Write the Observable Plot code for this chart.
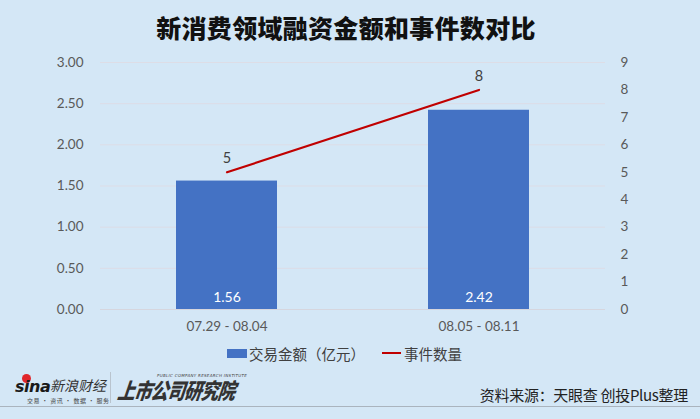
<!DOCTYPE html>
<html>
<head>
<meta charset="utf-8">
<script src="https://cdn.jsdelivr.net/npm/d3@7"></script>
<script src="https://cdn.jsdelivr.net/npm/@observablehq/plot@0.6"></script>
<style>
  html, body { margin: 0; padding: 0; }
  #page { position: relative; width: 700px; height: 419px; background: #d4e7f6; overflow: hidden; font-family: "Noto Sans CJK SC", "Lato", sans-serif; }
  #title { position: absolute; left: 0; top: 9px; width: 692px; text-align: center; font-size: 25px; font-weight: 900; color: #111; line-height: 36px; letter-spacing: 0.3px; }
  #chart { position: absolute; left: 0; top: 52px; }
  #legend { position: absolute; left: 227px; top: 342px; height: 22px; font-size: 14.5px; color: #404040; display: flex; align-items: center; white-space: nowrap; }
  .sw-bar { display: inline-block; width: 20px; height: 9px; background: #4472c4; margin-right: 2px; }
  .sw-line { display: inline-block; width: 19px; height: 2px; background: #c00000; margin-left: 17px; margin-right: 3px; }
  #source { position: absolute; right: 12px; top: 384px; font-size: 15px; color: #222; line-height: 22px; letter-spacing: -0.3px; }
  #sep { position: absolute; left: 0; top: 405.5px; width: 700px; height: 1.5px; background: #aab4be; }
  #vsep { position: absolute; left: 110px; top: 372px; width: 1px; height: 31px; background: #b9c4ce; }
  #sina { position: absolute; left: 15px; top: 377px; font-family: "DejaVu Sans", sans-serif; font-weight: bold; font-style: italic; font-size: 16px; color: #1a1a1a; letter-spacing: -0.5px; }
  #sinaeye { position: absolute; left: 22px; top: 374px; width: 9px; height: 9px; border-radius: 50%; background: #e0262b; }
  #xinlang { position: absolute; left: 50px; top: 375px; font-size: 14px; font-style: italic; color: #333; }
  #sinasub { position: absolute; left: 27px; top: 396px; font-size: 6px; color: #444; letter-spacing: 0.5px; }
  #ssgs { position: absolute; left: 118px; top: 377px; font-size: 17.5px; font-weight: 900; font-style: italic; color: #333; transform: skewX(-8deg) scaleY(1.25); transform-origin: left center; letter-spacing: -0.8px; }
  #pcri { position: absolute; left: 157px; top: 373px; font-size: 4px; color: #444; font-family: "DejaVu Sans", sans-serif; font-style: italic; letter-spacing: 0.3px; }
</style>
</head>
<body>
<div id="page">
  <div id="title">新消费领域融资金额和事件数对比</div>
  <div id="chart"></div>
  <div id="legend"><span class="sw-bar"></span><span>交易金额（亿元）</span><span class="sw-line"></span><span>事件数量</span></div>
  <div id="sinaeye"></div>
  <div id="sina">sina</div>
  <div id="xinlang">新浪财经</div>
  <div id="sinasub">交易 · 资讯 · 数据 · 服务</div>
  <div id="vsep"></div>
  <div id="pcri">PUBLIC COMPANY RESEARCH INSTITUTE</div>
  <div id="ssgs">上市公司研究院</div>
  <div id="source">资料来源：天眼查 创投Plus整理</div>
  <div id="sep"></div>
</div>
<script>
// ---- data ----
const periods = ["07.29 - 08.04", "08.05 - 08.11"];
const amounts = [1.56, 2.42];      // 交易金额（亿元）
const counts = [5, 8];             // 事件数量
const leftTicks = [0, 0.5, 1, 1.5, 2, 2.5, 3];
const rightTicks = [0, 1, 2, 3, 4, 5, 6, 7, 8, 9];
const leftMax = 3;
const rightMax = 9;

const data = periods.map((p, i) => ({period: p, amount: amounts[i], count: counts[i]}));
const ratio = leftMax / rightMax;
const font = "Lato, 'Liberation Sans', sans-serif";
const axisColor = "#595959";

const chart = Plot.plot({
  width: 700,
  height: 290,
  marginTop: 10,
  marginBottom: 33,
  marginLeft: 100,
  marginRight: 95,
  style: {background: "transparent", fontFamily: font, fontSize: "13.5px", color: axisColor},
  x: {type: "band", domain: periods, paddingInner: 0.6, paddingOuter: 0.3, axis: null},
  y: {domain: [0, leftMax], axis: null},
  marks: [
    Plot.gridY(leftTicks, {stroke: "#dddde6", strokeOpacity: 1, strokeWidth: 1}),
    Plot.ruleY([0], {stroke: "#d6d6de", strokeWidth: 1.2}),
    Plot.barY(data, {x: "period", y: "amount", fill: "#4472c4"}),
    Plot.text(data, {x: "period", y: 0, text: d => d.amount.toFixed(2), dy: -12, fill: "white", fontSize: 14}),
    Plot.line(data, {x: "period", y: d => d.count * ratio, stroke: "#c00000", strokeWidth: 2.2}),
    Plot.text(data, {x: "period", y: d => d.count * ratio, text: d => String(d.count), dy: -14, fill: "#404040", fontSize: 14.5}),
    Plot.axisY(leftTicks, {anchor: "left", label: null, tickFormat: d => d.toFixed(2), tickSize: 0, tickPadding: 17, fill: axisColor, fontSize: 13.5}),
    Plot.axisY(rightTicks.map(v => v * ratio), {anchor: "right", label: null, tickFormat: d => String(Math.round(d / ratio)), tickSize: 0, tickPadding: 15, fill: axisColor, fontSize: 13.5}),
    Plot.axisX(periods, {anchor: "bottom", label: null, tickSize: 0, tickPadding: 12, fill: axisColor, fontSize: 13.5})
  ]
});
document.getElementById("chart").appendChild(chart);
</script>
</body>
</html>
